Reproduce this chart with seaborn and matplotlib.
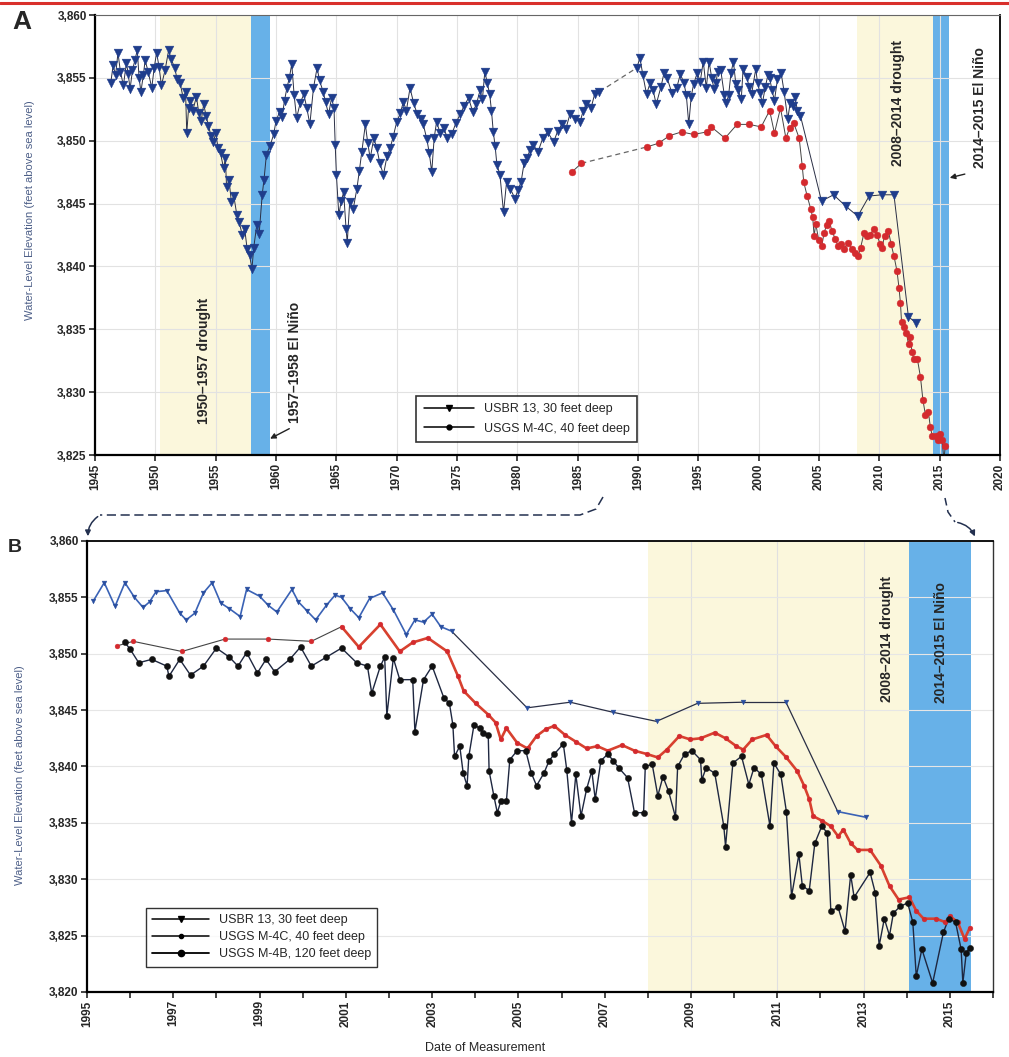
import numpy as np
import matplotlib
matplotlib.use("Agg")
import matplotlib.pyplot as plt
import seaborn as sns
from matplotlib.lines import Line2D
from matplotlib.patches import FancyArrowPatch
from matplotlib.ticker import FuncFormatter

sns.set_theme(style="white")
plt.rcParams['font.family'] = ['Liberation Sans', 'DejaVu Sans']

# USBR 13, 30 feet deep
usbr_year = [
    1946.3, 1946.5, 1946.7, 1946.9, 1947.1, 1947.35, 1947.6, 1947.75, 1947.9, 1948.1,
    1948.3, 1948.5, 1948.65, 1948.8, 1949.0, 1949.15, 1949.4, 1949.7, 1949.9, 1950.1,
    1950.3, 1950.5, 1950.8, 1951.1, 1951.3, 1951.6, 1951.8, 1952.05, 1952.3, 1952.5,
    1952.6, 1952.75, 1952.9, 1953.1, 1953.4, 1953.6, 1953.8, 1954.0, 1954.2, 1954.4,
    1954.6, 1954.8, 1955.0, 1955.2, 1955.4, 1955.65, 1955.8, 1955.9, 1956.1, 1956.3,
    1956.5, 1956.75, 1956.95, 1957.2, 1957.4, 1957.6, 1957.8, 1958.0, 1958.15, 1958.4,
    1958.6, 1958.85, 1959.0, 1959.2, 1959.5, 1959.8, 1960.0, 1960.3, 1960.5, 1960.7,
    1960.9, 1961.1, 1961.3, 1961.5, 1961.7, 1962.0, 1962.3, 1962.55, 1962.8, 1963.1,
    1963.4, 1963.6, 1963.9, 1964.1, 1964.35, 1964.6, 1964.8, 1964.9, 1965.0, 1965.2,
    1965.4, 1965.6, 1965.8, 1965.9, 1966.1, 1966.4, 1966.7, 1966.9, 1967.1, 1967.4,
    1967.6, 1967.8, 1968.1, 1968.35, 1968.6, 1968.9, 1969.2, 1969.45, 1969.7, 1970.0,
    1970.3, 1970.55, 1970.8, 1971.1, 1971.4, 1971.7, 1972.0, 1972.2, 1972.5, 1972.7,
    1972.9, 1973.1, 1973.3, 1973.6, 1973.9, 1974.2, 1974.55, 1974.9, 1975.25, 1975.6,
    1975.95, 1976.3, 1976.6, 1976.9, 1977.1, 1977.3, 1977.5, 1977.7, 1977.85, 1978.0,
    1978.15, 1978.3, 1978.55, 1978.85, 1979.1, 1979.4, 1979.8, 1980.05, 1980.3, 1980.55,
    1980.8, 1981.05, 1981.3, 1981.7, 1982.1, 1982.5, 1983.0, 1983.35, 1983.7, 1984.0,
    1984.35, 1984.8, 1985.2, 1985.45, 1985.7, 1986.1, 1986.4, 1986.8,
    1989.9, 1990.15, 1990.4, 1990.7, 1991.0, 1991.25, 1991.5, 1991.9, 1992.15, 1992.4,
    1992.8, 1993.2, 1993.5, 1993.8, 1994.0, 1994.2, 1994.4, 1994.6, 1994.9, 1995.15,
    1995.4, 1995.65,
    1995.88, 1996.1, 1996.3, 1996.45, 1996.6, 1996.85, 1997.15, 1997.3, 1997.5, 1997.7,
    1997.9, 1998.1, 1998.3, 1998.55, 1998.7, 1999.0, 1999.2, 1999.4, 1999.75, 1999.9,
    2000.1, 2000.3, 2000.55, 2000.75, 2000.9, 2001.1, 2001.3, 2001.55, 2001.85, 2002.1,
    2002.4, 2002.6, 2002.8, 2003.0, 2003.2, 2003.45,
    2005.2, 2006.2, 2007.2, 2008.2, 2009.15, 2010.2, 2011.2, 2012.4, 2013.05,
]
usbr_level = [
    3854.6, 3856.0, 3855.2, 3857.0, 3855.5, 3854.4, 3856.2, 3855.3, 3854.1, 3855.6,
    3856.4, 3857.2, 3855.0, 3853.9, 3855.2, 3856.4, 3855.5, 3854.2, 3855.8, 3857.0,
    3855.9, 3854.4, 3855.6, 3857.2, 3856.5, 3855.8, 3854.9, 3854.6, 3853.4, 3853.9,
    3850.6, 3852.6, 3853.2, 3852.4, 3853.5, 3852.2, 3851.6, 3852.9, 3852.0, 3851.2,
    3850.4, 3849.9, 3850.6, 3849.4, 3849.0, 3847.8, 3848.6, 3846.3, 3846.9, 3845.1,
    3845.6, 3844.1, 3843.5, 3842.5, 3843.0, 3841.4, 3840.9, 3839.8, 3841.5, 3843.3,
    3842.6, 3845.7, 3846.9, 3848.9, 3849.6, 3850.5, 3851.6, 3852.3, 3851.9, 3853.2,
    3854.2, 3855.0, 3856.1, 3853.6, 3851.8, 3853.0, 3853.7, 3852.6, 3851.3, 3854.2,
    3855.8, 3854.8, 3853.9, 3853.1, 3852.1, 3853.4, 3852.6, 3849.7, 3847.3, 3844.1,
    3845.2, 3845.9, 3843.0, 3841.9, 3845.1, 3844.6, 3846.2, 3847.6, 3849.1, 3851.3,
    3849.8, 3848.6, 3850.2, 3849.4, 3848.2, 3847.3, 3848.8, 3849.4, 3850.3, 3851.5,
    3852.2, 3853.1, 3852.4, 3854.2, 3853.0, 3852.1, 3851.7, 3851.3, 3850.1, 3849.0,
    3847.5, 3850.2, 3851.5, 3850.6, 3851.0, 3850.2, 3850.5, 3851.4, 3852.1, 3852.8,
    3853.4, 3852.3, 3852.9, 3854.0, 3853.3, 3855.5, 3854.6, 3853.7, 3852.4, 3850.7,
    3849.6, 3848.1, 3847.3, 3844.3, 3846.7, 3846.2, 3845.4, 3846.1, 3846.7, 3848.2,
    3848.6, 3849.3, 3849.7, 3849.1, 3850.2, 3850.7, 3849.9, 3850.8, 3851.3, 3850.9,
    3852.1, 3851.7, 3851.5, 3852.4, 3852.9, 3852.6, 3853.7, 3853.9,
    3855.8, 3856.6, 3855.2, 3853.7, 3854.6, 3854.0, 3852.9, 3854.3, 3855.4, 3855.0,
    3853.8, 3854.2, 3855.3, 3854.6, 3853.6, 3851.3, 3853.5, 3854.5, 3855.4, 3854.7,
    3856.3, 3854.2,
    3856.3, 3855.0, 3854.1, 3854.6, 3855.5, 3855.6, 3853.6, 3853.0, 3853.6, 3855.4,
    3856.3, 3854.5, 3854.0, 3853.3, 3855.7, 3855.1, 3854.3, 3853.7, 3855.7, 3854.6,
    3853.8, 3853.0, 3854.3, 3855.2, 3855.0, 3854.0, 3853.2, 3854.9, 3855.4, 3853.9,
    3851.7, 3853.0, 3852.8, 3853.5, 3852.4, 3852.0,
    3845.2, 3845.7, 3844.8, 3844.0, 3845.6, 3845.7, 3845.7, 3836.0, 3835.5,
]

# USGS M-4C, 40 feet deep
m4c_year = [
    1984.5, 1985.3,
    1990.7, 1991.7, 1992.6, 1993.6, 1994.6, 1995.7,
    1996.07, 1997.2, 1998.2, 1999.2, 2000.2, 2000.9, 2001.3, 2001.8, 2002.25, 2002.55,
    2002.9, 2003.35, 2003.6, 2003.73, 2004.01, 2004.3, 2004.47, 2004.59, 2004.72, 2004.97,
    2005.21, 2005.42, 2005.63, 2005.83, 2006.08, 2006.33, 2006.58, 2006.83, 2007.07, 2007.4,
    2007.69, 2007.98, 2008.23, 2008.44, 2008.73, 2008.98, 2009.22, 2009.55, 2009.8, 2010.05,
    2010.21, 2010.42, 2010.75, 2010.96, 2011.21, 2011.46, 2011.62, 2011.74, 2011.83, 2012.03,
    2012.24, 2012.41, 2012.53, 2012.7, 2012.86, 2013.15, 2013.4, 2013.6, 2013.81, 2014.06,
    2014.22, 2014.39, 2014.68, 2014.89, 2015.01, 2015.18, 2015.34, 2015.46,
]
m4c_level = [
    3847.5, 3848.2,
    3849.5, 3849.8, 3850.4, 3850.7, 3850.5, 3850.7,
    3851.1, 3850.2, 3851.3, 3851.3, 3851.1, 3852.4, 3850.6, 3852.6, 3850.2, 3851.0,
    3851.4, 3850.2, 3848.0, 3846.7, 3845.6, 3844.6, 3843.9, 3842.4, 3843.4, 3842.1,
    3841.6, 3842.7, 3843.3, 3843.6, 3842.8, 3842.2, 3841.6, 3841.8, 3841.4, 3841.9,
    3841.4, 3841.1, 3840.8, 3841.5, 3842.7, 3842.4, 3842.5, 3843.0, 3842.5, 3841.8,
    3841.5, 3842.4, 3842.8, 3841.8, 3840.8, 3839.6, 3838.3, 3837.1, 3835.6, 3835.2,
    3834.7, 3833.8, 3834.4, 3833.2, 3832.6, 3832.6, 3831.2, 3829.4, 3828.2, 3828.4,
    3827.2, 3826.5, 3826.5, 3826.2, 3826.7, 3826.2, 3824.7, 3825.7,
]

# USGS M-4B, 120 feet deep
m4b_year = [
    1995.88, 1996.0, 1996.2, 1996.5, 1996.85, 1996.9, 1997.15, 1997.4, 1997.7, 1998.0,
    1998.3, 1998.5, 1998.7, 1998.95, 1999.15, 1999.35, 1999.7, 1999.95, 2000.2, 2000.55,
    2000.9, 2001.25, 2001.5, 2001.6, 2001.8, 2001.9, 2001.95, 2002.1, 2002.25, 2002.55,
    2002.6, 2002.8, 2003.0, 2003.27, 2003.4, 2003.48, 2003.52, 2003.64, 2003.72, 2003.81,
    2003.85, 2003.97, 2004.1, 2004.18, 2004.3, 2004.32, 2004.43, 2004.51, 2004.59, 2004.72,
    2004.8, 2004.97, 2005.17, 2005.3, 2005.42, 2005.59, 2005.71, 2005.83, 2006.04, 2006.12,
    2006.23, 2006.33, 2006.45, 2006.58, 2006.7, 2006.78, 2006.91, 2007.07, 2007.2, 2007.32,
    2007.53, 2007.69, 2007.9, 2007.94, 2008.1, 2008.23, 2008.35, 2008.48, 2008.64, 2008.69,
    2008.85, 2009.02, 2009.22, 2009.25, 2009.35, 2009.55, 2009.76, 2009.8, 2009.97, 2010.17,
    2010.34, 2010.46, 2010.63, 2010.83, 2010.92, 2011.08, 2011.21, 2011.33, 2011.5, 2011.58,
    2011.74, 2011.87, 2012.03, 2012.16, 2012.24, 2012.41, 2012.57, 2012.7, 2012.78, 2013.15,
    2013.27, 2013.36, 2013.48, 2013.6, 2013.69, 2013.85, 2014.02, 2014.14, 2014.22, 2014.35,
    2014.6, 2014.85, 2014.97, 2015.13, 2015.26, 2015.3, 2015.38, 2015.46,
]
m4b_level = [
    3851.0, 3850.4, 3849.2, 3849.5, 3848.9, 3848.0, 3849.5, 3848.1, 3848.9, 3850.5,
    3849.7, 3848.9, 3850.1, 3848.3, 3849.5, 3848.4, 3849.5, 3850.6, 3848.9, 3849.7,
    3850.5, 3849.2, 3848.9, 3846.5, 3848.9, 3849.7, 3844.5, 3849.6, 3847.7, 3847.7,
    3843.1, 3847.7, 3848.9, 3846.1, 3845.6, 3843.7, 3840.9, 3841.8, 3839.4, 3838.3,
    3840.9, 3843.7, 3843.4, 3843.0, 3842.8, 3839.6, 3837.4, 3835.9, 3836.9, 3836.9,
    3840.6, 3841.4, 3841.4, 3839.4, 3838.3, 3839.4, 3840.5, 3841.1, 3842.0, 3839.7,
    3835.0, 3839.3, 3835.6, 3838.0, 3839.6, 3837.1, 3840.5, 3841.1, 3840.5, 3839.9,
    3839.0, 3835.9, 3835.9, 3840.0, 3840.2, 3837.4, 3839.1, 3837.8, 3835.5, 3840.0,
    3841.1, 3841.4, 3840.6, 3838.8, 3839.9, 3839.4, 3834.7, 3832.9, 3840.3, 3840.9,
    3838.4, 3839.9, 3839.3, 3834.7, 3840.3, 3839.3, 3836.0, 3828.5, 3832.2, 3829.4,
    3829.0, 3833.2, 3834.7, 3834.1, 3827.2, 3827.5, 3825.4, 3830.4, 3828.4, 3830.6,
    3828.8, 3824.1, 3826.5, 3825.0, 3827.0, 3827.6, 3827.9, 3826.2, 3821.4, 3823.8,
    3820.8, 3825.3, 3826.5, 3826.2, 3823.8, 3820.8, 3823.5, 3823.9,
]

labels = ['USBR 13, 30 feet deep', 'USGS M-4C, 40 feet deep', 'USGS M-4B, 120 feet deep']

BLUE_DARK = '#1f3d8c'
RED = '#d42a2e'
SPAN_YELLOW = '#fbf7dc'
SPAN_BLUE = '#67b1e8'
TXT = dict(fontweight='bold', fontsize=10, rotation=90, ha='center', va='center')
GAP_DASHED = dict(ls=(0, (4, 3)), color='#666666', lw=0.9)
GAP_SOLID = dict(ls='-', color='#2a2f45', lw=0.9)


def draw_series(ax, xs, ys, gap, line_kw, marker_kw, gap_kw=GAP_DASHED):
    xs = np.asarray(xs)
    ys = np.asarray(ys)
    breaks = np.where(np.diff(xs) > gap)[0] + 1
    for sx, sy in zip(np.split(xs, breaks), np.split(ys, breaks)):
        sns.lineplot(x=sx, y=sy, ax=ax, estimator=None, sort=False, **line_kw)
    for b in breaks:
        ax.plot(xs[b - 1:b + 1], ys[b - 1:b + 1], zorder=2, **gap_kw)
    sns.scatterplot(x=xs, y=ys, ax=ax, zorder=3, legend=False, **marker_kw)


comma = FuncFormatter(lambda v, p: f'{int(v):,}')

fig = plt.figure(figsize=(10.09, 10.57), dpi=100)
axA = fig.add_axes([0.0942, 0.5695, 0.897, 0.4163])
axB = fig.add_axes([0.0862, 0.0615, 0.898, 0.4267])

# ---------- Panel A ----------
axA.axvspan(1950.4, 1957.9, color=SPAN_YELLOW, zorder=0, lw=0)
axA.axvspan(1957.9, 1959.5, color=SPAN_BLUE, zorder=0.5, lw=0)
axA.axvspan(2008.1, 2014.4, color=SPAN_YELLOW, zorder=0, lw=0)
axA.axvspan(2014.4, 2015.8, color=SPAN_BLUE, zorder=0.5, lw=0)

draw_series(axA, usbr_year, usbr_level, 2.5,
            dict(color='#2a2f45', linewidth=0.7),
            dict(marker='v', s=40, color=BLUE_DARK, edgecolor=BLUE_DARK, linewidth=0.3))
draw_series(axA, m4c_year, m4c_level, 2.5,
            dict(color='#444444', linewidth=0.7),
            dict(marker='o', s=24, color=RED, edgecolor=RED, linewidth=0.3))

axA.set_xlim(1945, 2020)
axA.set_ylim(3825, 3860)
axA.set_xticks(range(1945, 2021, 5))
axA.set_yticks(range(3825, 3861, 5))
axA.yaxis.set_major_formatter(comma)
axA.tick_params(axis='x', labelrotation=90)
axA.grid(True, color='#e2e2e2', lw=0.8)
axA.set_axisbelow(True)

axA.text(1954.0, 3832.5, '1950\u20131957 drought', **TXT)
axA.text(1961.6, 3832.4, '1957\u20131958 El Ni\u00f1o', **TXT)
axA.text(2011.5, 3853.0, '2008\u20132014 drought', **TXT)
axA.text(2018.3, 3852.6, '2014\u20132015 El Ni\u00f1o', **TXT)
axA.annotate('', xy=(1959.3, 3826.2), xytext=(1961.3, 3827.2),
             arrowprops=dict(arrowstyle='-|>', color='#222222', lw=1, mutation_scale=8))
axA.annotate('', xy=(2015.6, 3847.0), xytext=(2017.3, 3847.4),
             arrowprops=dict(arrowstyle='-|>', color='#222222', lw=1, mutation_scale=8))

handlesA = [
    Line2D([], [], color='black', lw=1.1, marker='v', markersize=4, label=labels[0]),
    Line2D([], [], color='black', lw=1.1, marker='o', markersize=3.5, label=labels[1]),
]
legA = axA.legend(handles=handlesA, loc='upper left', bbox_to_anchor=(0.348, 0.149),
                  frameon=True, fancybox=False, edgecolor='black', fontsize=9,
                  handlelength=4, borderpad=0.6, labelspacing=0.6)
legA.get_frame().set_linewidth(1.2)

# ---------- Panel B ----------
axB.axvspan(2008.0, 2014.05, color=SPAN_YELLOW, zorder=0, lw=0)
axB.axvspan(2014.05, 2015.5, color=SPAN_BLUE, zorder=0.5, lw=0)

sel = [i for i, y in enumerate(usbr_year) if y >= 1995]
draw_series(axB, [usbr_year[i] for i in sel], [usbr_level[i] for i in sel], 0.9,
            dict(color='#3a62b5', linewidth=1.2),
            dict(marker='v', s=12, color='#2a4fa0', edgecolor='#2a4fa0', linewidth=0.3),
            gap_kw=GAP_SOLID)

sel = [i for i, y in enumerate(m4c_year) if y >= 1995]
bx = [m4c_year[i] for i in sel]
by = [m4c_level[i] for i in sel]
sns.lineplot(x=bx, y=by, ax=axB, color='#444444', linewidth=0.8, estimator=None, sort=False)
late = [i for i, y in enumerate(bx) if y >= 2000.9]
sns.lineplot(x=[bx[i] for i in late], y=[by[i] for i in late], ax=axB,
             color='#d8412f', linewidth=1.9, estimator=None, sort=False)
sns.scatterplot(x=bx, y=by, ax=axB, marker='o', s=12, color=RED, edgecolor=RED,
                linewidth=0.3, zorder=3, legend=False)

draw_series(axB, m4b_year, m4b_level, 100,
            dict(color='#1e2740', linewidth=1.0),
            dict(marker='o', s=20, color='#111111', edgecolor='#111111', linewidth=0.3))

axB.set_xlim(1995, 2016)
axB.set_ylim(3820, 3860)
axB.set_xticks(range(1995, 2017))
axB.set_xticklabels([str(y) if y % 2 == 1 else '' for y in range(1995, 2017)])
axB.tick_params(axis='x', labelrotation=90)
axB.set_yticks(range(3820, 3861, 5))
axB.yaxis.set_major_formatter(comma)
axB.grid(True, axis='y', color='#e6e6e6', lw=0.8)
axB.set_axisbelow(True)
for yr in [2009, 2011, 2013]:
    axB.axvline(yr, color='#e0e0e0', lw=0.8, zorder=0.2)

axB.text(2013.55, 3851.3, '2008\u20132014 drought', **TXT)
axB.text(2014.8, 3851.0, '2014\u20132015 El Ni\u00f1o', **TXT)

handlesB = [
    Line2D([], [], color='black', lw=1.1, marker='v', markersize=4, label=labels[0]),
    Line2D([], [], color='black', lw=1.1, marker='o', markersize=3, label=labels[1]),
    Line2D([], [], color='black', lw=1.3, marker='o', markersize=4.5, label=labels[2]),
]
legB = axB.legend(handles=handlesB, loc='upper left', bbox_to_anchor=(0.0585, 0.2),
                  frameon=True, fancybox=False, edgecolor='black', fontsize=9,
                  handlelength=4.5, borderpad=0.5, labelspacing=0.4)
legB.get_frame().set_linewidth(1.0)

# ---------- shared styling ----------
for ax in (axA, axB):
    ax.tick_params(axis='both', which='both', direction='out', length=4, width=1.2,
                   bottom=True, left=True, labelsize=8.5, pad=2)
    for lab in ax.get_xticklabels() + ax.get_yticklabels():
        lab.set_fontweight('bold')
    ax.set_xlabel('')
    ax.set_ylabel('')
    for side in ('left', 'bottom'):
        ax.spines[side].set_linewidth(1.6)
        ax.spines[side].set_color('black')
axA.spines['right'].set_linewidth(1.3)
axA.spines['right'].set_color('black')
axA.spines['top'].set_linewidth(0.8)
axA.spines['top'].set_color('#666666')
axB.spines['top'].set_linewidth(1.3)
axB.spines['top'].set_color('black')
axB.spines['right'].set_linewidth(1.0)
axB.spines['right'].set_color('#333333')

W, H = 1009, 1057


def fx(px):
    return px / W


def fy(py):
    return 1 - py / H


ylab = 'Water-Level Elevation (feet above sea level)'
fig.text(fx(30), fy(210), ylab, rotation=90, ha='center', va='center', fontsize=8, color='#4d5f88')
fig.text(fx(20), fy(775), ylab, rotation=90, ha='center', va='center', fontsize=8, color='#4d5f88')
fig.text(fx(485), fy(1048), 'Date of Measurement', ha='center', va='center', fontsize=9)
fig.text(fx(22), fy(22), 'A', ha='center', va='center', fontsize=19, fontweight='bold')
fig.text(fx(15), fy(547), 'B', ha='center', va='center', fontsize=14, fontweight='bold')

# red rule at the top of the page
fig.add_artist(Line2D([0, 1], [fy(3), fy(3)], transform=fig.transFigure, color='#d9302c', lw=2.2))

# connectors between the two panels
CONN = '#23304f'
fig.add_artist(Line2D([fx(603), fx(596), fx(580), fx(100)],
                      [fy(497), fy(509), fy(515), fy(515)],
                      transform=fig.transFigure, color=CONN, lw=1.1, ls=(0, (6, 3))))
fig.add_artist(FancyArrowPatch((fx(100), fy(515)), (fx(88), fy(539)), transform=fig.transFigure,
                               arrowstyle='-|>', mutation_scale=8, color=CONN, lw=1.1,
                               connectionstyle='arc3,rad=0.3'))
fig.add_artist(Line2D([fx(945), fx(948), fx(955)],
                      [fy(498), fy(512), fy(522)],
                      transform=fig.transFigure, color=CONN, lw=1.1, ls=(0, (5, 3))))
fig.add_artist(FancyArrowPatch((fx(955), fy(522)), (fx(976), fy(539)), transform=fig.transFigure,
                               arrowstyle='-|>', mutation_scale=8, color=CONN, lw=1.1,
                               connectionstyle='arc3,rad=-0.3'))

fig.savefig('out.png', dpi=100, facecolor='white')
